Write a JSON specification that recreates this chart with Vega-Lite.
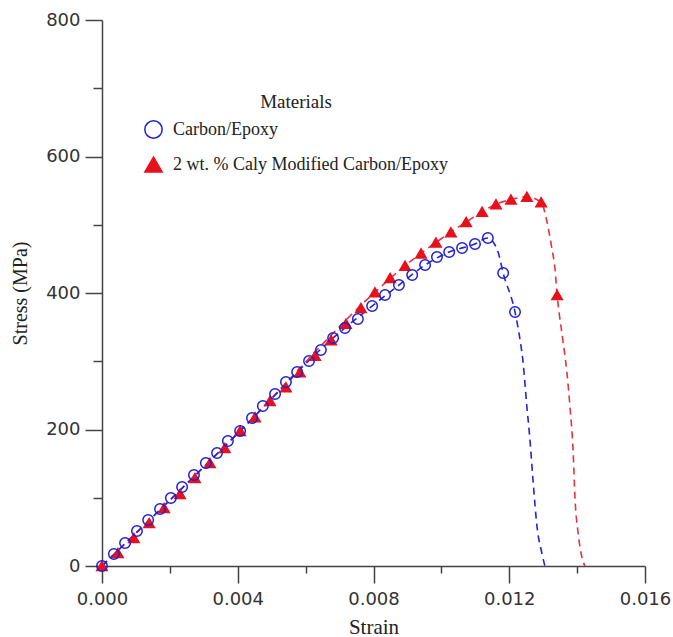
{
  "$schema": "https://vega.github.io/schema/vega-lite/v6.json",
  "width": 543,
  "height": 546,
  "autosize": {"type": "none"},
  "padding": {"left": 102, "top": 20, "right": 28, "bottom": 71},
  "background": "white",
  "config": {
    "view": {"stroke": null},
    "axis": {
      "grid": false,
      "domainColor": "#444",
      "domainWidth": 1.5,
      "tickColor": "#444",
      "tickWidth": 1.5,
      "labelColor": "#333",
      "labelFont": "DejaVu Sans",
      "labelFontSize": 18,
      "labelOverlap": false,
      "labelFlush": false,
      "titleFont": "Liberation Serif",
      "titleFontWeight": "normal",
      "titleColor": "#222"
    },
    "legend": {
      "orient": "none",
      "legendX": 42,
      "legendY": 73,
      "padding": 0,
      "titleFont": "Liberation Serif",
      "titleFontSize": 19,
      "titleFontWeight": "normal",
      "titleColor": "#222",
      "titleAnchor": "middle",
      "titlePadding": 8,
      "labelFont": "Liberation Serif",
      "labelFontSize": 18,
      "labelColor": "#222",
      "labelOffset": 10,
      "labelLimit": 500,
      "symbolSize": 300,
      "symbolStrokeWidth": 1.5,
      "symbolOpacity": 1,
      "rowPadding": 12
    }
  },
  "datasets": {
    "points": [
      {"series": "2 wt. % Caly Modified Carbon/Epoxy", "strain": 0, "stress": 0},
      {"series": "2 wt. % Caly Modified Carbon/Epoxy", "strain": 0.00047, "stress": 19},
      {"series": "2 wt. % Caly Modified Carbon/Epoxy", "strain": 0.00094, "stress": 41},
      {"series": "2 wt. % Caly Modified Carbon/Epoxy", "strain": 0.00139, "stress": 63},
      {"series": "2 wt. % Caly Modified Carbon/Epoxy", "strain": 0.00183, "stress": 85},
      {"series": "2 wt. % Caly Modified Carbon/Epoxy", "strain": 0.0023, "stress": 105.5},
      {"series": "2 wt. % Caly Modified Carbon/Epoxy", "strain": 0.00274, "stress": 129},
      {"series": "2 wt. % Caly Modified Carbon/Epoxy", "strain": 0.00318, "stress": 151},
      {"series": "2 wt. % Caly Modified Carbon/Epoxy", "strain": 0.00362, "stress": 173},
      {"series": "2 wt. % Caly Modified Carbon/Epoxy", "strain": 0.00407, "stress": 198},
      {"series": "2 wt. % Caly Modified Carbon/Epoxy", "strain": 0.00451, "stress": 218},
      {"series": "2 wt. % Caly Modified Carbon/Epoxy", "strain": 0.00495, "stress": 242},
      {"series": "2 wt. % Caly Modified Carbon/Epoxy", "strain": 0.00542, "stress": 262},
      {"series": "2 wt. % Caly Modified Carbon/Epoxy", "strain": 0.00583, "stress": 284},
      {"series": "2 wt. % Caly Modified Carbon/Epoxy", "strain": 0.00628, "stress": 308},
      {"series": "2 wt. % Caly Modified Carbon/Epoxy", "strain": 0.00675, "stress": 331},
      {"series": "2 wt. % Caly Modified Carbon/Epoxy", "strain": 0.00719, "stress": 355},
      {"series": "2 wt. % Caly Modified Carbon/Epoxy", "strain": 0.00763, "stress": 378},
      {"series": "2 wt. % Caly Modified Carbon/Epoxy", "strain": 0.00804, "stress": 401},
      {"series": "2 wt. % Caly Modified Carbon/Epoxy", "strain": 0.00849, "stress": 422},
      {"series": "2 wt. % Caly Modified Carbon/Epoxy", "strain": 0.00893, "stress": 440},
      {"series": "2 wt. % Caly Modified Carbon/Epoxy", "strain": 0.0094, "stress": 458},
      {"series": "2 wt. % Caly Modified Carbon/Epoxy", "strain": 0.00984, "stress": 474},
      {"series": "2 wt. % Caly Modified Carbon/Epoxy", "strain": 0.01028, "stress": 489},
      {"series": "2 wt. % Caly Modified Carbon/Epoxy", "strain": 0.01073, "stress": 504},
      {"series": "2 wt. % Caly Modified Carbon/Epoxy", "strain": 0.0112, "stress": 519},
      {"series": "2 wt. % Caly Modified Carbon/Epoxy", "strain": 0.01161, "stress": 530},
      {"series": "2 wt. % Caly Modified Carbon/Epoxy", "strain": 0.01205, "stress": 537},
      {"series": "2 wt. % Caly Modified Carbon/Epoxy", "strain": 0.01252, "stress": 541},
      {"series": "2 wt. % Caly Modified Carbon/Epoxy", "strain": 0.01294, "stress": 533},
      {"series": "2 wt. % Caly Modified Carbon/Epoxy", "strain": 0.01341, "stress": 397},
      {"series": "Carbon/Epoxy", "strain": 0, "stress": 0},
      {"series": "Carbon/Epoxy", "strain": 0.00035, "stress": 17.6},
      {"series": "Carbon/Epoxy", "strain": 0.00068, "stress": 33.7},
      {"series": "Carbon/Epoxy", "strain": 0.00103, "stress": 51.3},
      {"series": "Carbon/Epoxy", "strain": 0.00136, "stress": 67.4},
      {"series": "Carbon/Epoxy", "strain": 0.00171, "stress": 83.5},
      {"series": "Carbon/Epoxy", "strain": 0.00203, "stress": 99.6},
      {"series": "Carbon/Epoxy", "strain": 0.00236, "stress": 115.8},
      {"series": "Carbon/Epoxy", "strain": 0.00271, "stress": 133.3},
      {"series": "Carbon/Epoxy", "strain": 0.00306, "stress": 150.9},
      {"series": "Carbon/Epoxy", "strain": 0.00339, "stress": 165.6},
      {"series": "Carbon/Epoxy", "strain": 0.00371, "stress": 183.2},
      {"series": "Carbon/Epoxy", "strain": 0.00407, "stress": 197.8},
      {"series": "Carbon/Epoxy", "strain": 0.00442, "stress": 216.8},
      {"series": "Carbon/Epoxy", "strain": 0.00474, "stress": 234.4},
      {"series": "Carbon/Epoxy", "strain": 0.0051, "stress": 252.0},
      {"series": "Carbon/Epoxy", "strain": 0.00542, "stress": 269.6},
      {"series": "Carbon/Epoxy", "strain": 0.00575, "stress": 284.2},
      {"series": "Carbon/Epoxy", "strain": 0.0061, "stress": 300.4},
      {"series": "Carbon/Epoxy", "strain": 0.00645, "stress": 316.5},
      {"series": "Carbon/Epoxy", "strain": 0.00681, "stress": 334.1},
      {"series": "Carbon/Epoxy", "strain": 0.00716, "stress": 348.7},
      {"series": "Carbon/Epoxy", "strain": 0.00754, "stress": 361.9},
      {"series": "Carbon/Epoxy", "strain": 0.00796, "stress": 380.9},
      {"series": "Carbon/Epoxy", "strain": 0.00834, "stress": 397.1},
      {"series": "Carbon/Epoxy", "strain": 0.00875, "stress": 411.7},
      {"series": "Carbon/Epoxy", "strain": 0.00914, "stress": 426.4},
      {"series": "Carbon/Epoxy", "strain": 0.00952, "stress": 441.0},
      {"series": "Carbon/Epoxy", "strain": 0.00987, "stress": 452.7},
      {"series": "Carbon/Epoxy", "strain": 0.01023, "stress": 460.1},
      {"series": "Carbon/Epoxy", "strain": 0.01061, "stress": 465.9},
      {"series": "Carbon/Epoxy", "strain": 0.01099, "stress": 471.8},
      {"series": "Carbon/Epoxy", "strain": 0.01137, "stress": 480.6},
      {"series": "Carbon/Epoxy", "strain": 0.01182, "stress": 429.3},
      {"series": "Carbon/Epoxy", "strain": 0.01217, "stress": 372.2}
    ],
    "curves": [
      {"series": "Carbon/Epoxy", "strain": 0, "stress": 0},
      {"series": "Carbon/Epoxy", "strain": 0.00407, "stress": 197.8},
      {"series": "Carbon/Epoxy", "strain": 0.00681, "stress": 334.1},
      {"series": "Carbon/Epoxy", "strain": 0.00796, "stress": 380.9},
      {"series": "Carbon/Epoxy", "strain": 0.00875, "stress": 411.7},
      {"series": "Carbon/Epoxy", "strain": 0.00952, "stress": 441.0},
      {"series": "Carbon/Epoxy", "strain": 0.01023, "stress": 460.1},
      {"series": "Carbon/Epoxy", "strain": 0.01099, "stress": 471.8},
      {"series": "Carbon/Epoxy", "strain": 0.01137, "stress": 480.6},
      {"series": "Carbon/Epoxy", "strain": 0.01167, "stress": 460},
      {"series": "Carbon/Epoxy", "strain": 0.01182, "stress": 429.3},
      {"series": "Carbon/Epoxy", "strain": 0.01217, "stress": 372.2},
      {"series": "Carbon/Epoxy", "strain": 0.01232, "stress": 331},
      {"series": "Carbon/Epoxy", "strain": 0.0124, "stress": 302},
      {"series": "Carbon/Epoxy", "strain": 0.01252, "stress": 233},
      {"series": "Carbon/Epoxy", "strain": 0.01261, "stress": 185},
      {"series": "Carbon/Epoxy", "strain": 0.0127, "stress": 126},
      {"series": "Carbon/Epoxy", "strain": 0.01282, "stress": 57},
      {"series": "Carbon/Epoxy", "strain": 0.01296, "stress": 19},
      {"series": "Carbon/Epoxy", "strain": 0.01305, "stress": 0},
      {"series": "2 wt. % Caly Modified Carbon/Epoxy", "strain": 0, "stress": 0},
      {"series": "2 wt. % Caly Modified Carbon/Epoxy", "strain": 0.00407, "stress": 198},
      {"series": "2 wt. % Caly Modified Carbon/Epoxy", "strain": 0.00804, "stress": 401},
      {"series": "2 wt. % Caly Modified Carbon/Epoxy", "strain": 0.00893, "stress": 440},
      {"series": "2 wt. % Caly Modified Carbon/Epoxy", "strain": 0.00984, "stress": 474},
      {"series": "2 wt. % Caly Modified Carbon/Epoxy", "strain": 0.01073, "stress": 504},
      {"series": "2 wt. % Caly Modified Carbon/Epoxy", "strain": 0.01161, "stress": 530},
      {"series": "2 wt. % Caly Modified Carbon/Epoxy", "strain": 0.01205, "stress": 537},
      {"series": "2 wt. % Caly Modified Carbon/Epoxy", "strain": 0.01252, "stress": 541},
      {"series": "2 wt. % Caly Modified Carbon/Epoxy", "strain": 0.01294, "stress": 533},
      {"series": "2 wt. % Caly Modified Carbon/Epoxy", "strain": 0.0131, "stress": 507},
      {"series": "2 wt. % Caly Modified Carbon/Epoxy", "strain": 0.01325, "stress": 467},
      {"series": "2 wt. % Caly Modified Carbon/Epoxy", "strain": 0.01335, "stress": 434},
      {"series": "2 wt. % Caly Modified Carbon/Epoxy", "strain": 0.01341, "stress": 397},
      {"series": "2 wt. % Caly Modified Carbon/Epoxy", "strain": 0.01347, "stress": 371},
      {"series": "2 wt. % Caly Modified Carbon/Epoxy", "strain": 0.01358, "stress": 331},
      {"series": "2 wt. % Caly Modified Carbon/Epoxy", "strain": 0.0137, "stress": 283},
      {"series": "2 wt. % Caly Modified Carbon/Epoxy", "strain": 0.01379, "stress": 233},
      {"series": "2 wt. % Caly Modified Carbon/Epoxy", "strain": 0.01388, "stress": 170},
      {"series": "2 wt. % Caly Modified Carbon/Epoxy", "strain": 0.01394, "stress": 97},
      {"series": "2 wt. % Caly Modified Carbon/Epoxy", "strain": 0.01403, "stress": 48},
      {"series": "2 wt. % Caly Modified Carbon/Epoxy", "strain": 0.01414, "stress": 13},
      {"series": "2 wt. % Caly Modified Carbon/Epoxy", "strain": 0.01423, "stress": 0}
    ]
  },
  "layer": [
    {
      "data": {"name": "curves"},
      "transform": [{"filter": "datum.series === '2 wt. % Caly Modified Carbon/Epoxy'"}],
      "mark": {"type": "line", "stroke": "#e2343f", "strokeWidth": 1.6, "strokeDash": [7, 5], "interpolate": "monotone"},
      "encoding": {
        "x": {
          "field": "strain",
          "type": "quantitative",
          "scale": {"domain": [0, 0.016], "nice": false, "zero": false},
          "axis": {
            "title": "Strain",
            "values": [0, 0.002, 0.004, 0.006, 0.008, 0.01, 0.012, 0.014, 0.016],
            "format": ".3f",
            "labelExpr": "abs(datum.value/0.004 - round(datum.value/0.004)) < 0.001 ? datum.label : ''",
            "tickSize": {"condition": {"test": "abs(datum.value/0.004 - round(datum.value/0.004)) < 0.001", "value": 17}, "value": 7},
            "labelPadding": 7,
            "titleFontSize": 21,
            "titlePadding": 8
          }
        },
        "y": {
          "field": "stress",
          "type": "quantitative",
          "scale": {"domain": [0, 800], "nice": false},
          "axis": {
            "title": "Stress (MPa)",
            "values": [0, 100, 200, 300, 400, 500, 600, 700, 800],
            "labelExpr": "datum.value % 200 === 0 ? datum.label : ''",
            "tickSize": {"condition": {"test": "datum.value % 200 === 0", "value": 17}, "value": 9},
            "labelPadding": 5,
            "titleFontSize": 20,
            "titlePadding": 15
          }
        }
      }
    },
    {
      "data": {"name": "curves"},
      "transform": [{"filter": "datum.series === 'Carbon/Epoxy'"}],
      "mark": {"type": "line", "stroke": "#2424d6", "strokeWidth": 1.6, "strokeDash": [7, 5], "interpolate": "monotone"},
      "encoding": {
        "x": {"field": "strain", "type": "quantitative"},
        "y": {"field": "stress", "type": "quantitative"}
      }
    },
    {
      "data": {"name": "points"},
      "mark": {"type": "point", "opacity": 1, "strokeWidth": 1.5, "size": 110},
      "encoding": {
        "x": {"field": "strain", "type": "quantitative"},
        "y": {"field": "stress", "type": "quantitative"},
        "shape": {
          "field": "series",
          "type": "nominal",
          "title": "Materials\u00a0\u00a0\u00a0\u00a0\u00a0\u00a0\u00a0\u00a0\u00a0",
          "scale": {"domain": ["Carbon/Epoxy", "2 wt. % Caly Modified Carbon/Epoxy"], "range": ["circle", "triangle-up"]}
        },
        "fill": {
          "field": "series",
          "type": "nominal",
          "title": "Materials\u00a0\u00a0\u00a0\u00a0\u00a0\u00a0\u00a0\u00a0\u00a0",
          "scale": {"domain": ["Carbon/Epoxy", "2 wt. % Caly Modified Carbon/Epoxy"], "range": ["rgba(255,255,255,0)", "#e8111b"]}
        },
        "stroke": {
          "field": "series",
          "type": "nominal",
          "title": "Materials\u00a0\u00a0\u00a0\u00a0\u00a0\u00a0\u00a0\u00a0\u00a0",
          "scale": {"domain": ["Carbon/Epoxy", "2 wt. % Caly Modified Carbon/Epoxy"], "range": ["#1f1fd8", "#e8111b"]}
        }
      }
    }
  ]
}
